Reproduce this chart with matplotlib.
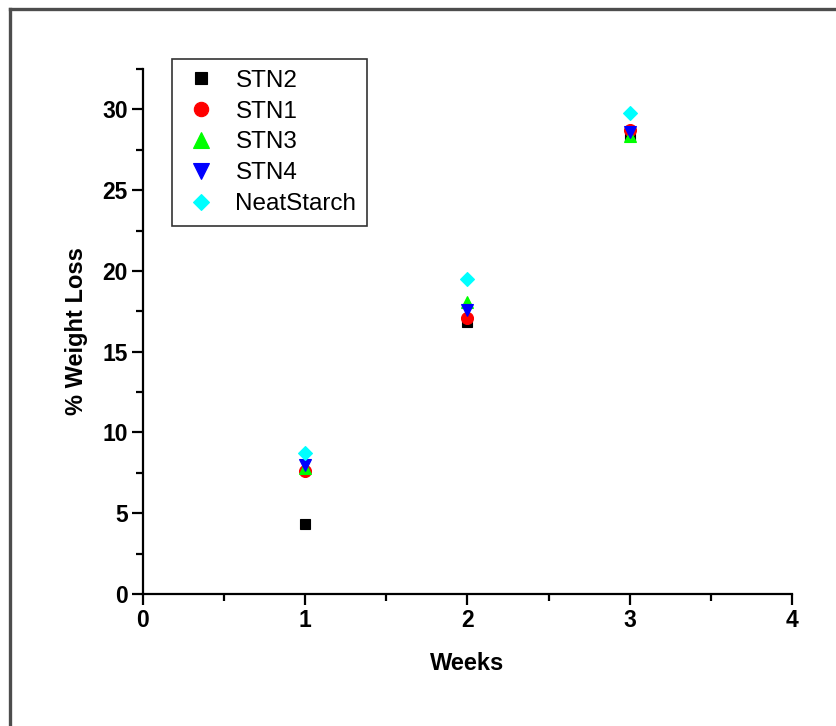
import matplotlib
matplotlib.use("Agg")
import matplotlib.pyplot as plt
from matplotlib.lines import Line2D
from matplotlib.ticker import MultipleLocator

plt.rcParams['font.family'] = ['Liberation Sans', 'DejaVu Sans']

weeks = [1, 2, 3]
stn2 = [4.35, 16.85, 28.35]
stn1 = [7.6, 17.1, 28.75]
stn3 = [7.8, 18.1, 28.35]
stn4 = [8.0, 17.6, 28.6]
neat_starch = [8.75, 19.5, 29.8]

series = [
    ("STN2", stn2, "s", "#000000", 7.3),
    ("STN1", stn1, "o", "#ff0000", 8.6),
    ("STN3", stn3, "^", "#00ff00", 9.2),
    ("STN4", stn4, "v", "#0000ff", 9.2),
    ("NeatStarch", neat_starch, "D", "#00ffff", 7.0),
]

W, H = 837, 726
fig = plt.figure(figsize=(W / 100, H / 100), dpi=100)

# outer page frame (left and top edges visible)
frame_col = "#4d4d4d"
fig.add_artist(Line2D([9.5 / W, 9.5 / W], [0, 1 - 8.5 / H], transform=fig.transFigure,
                      color=frame_col, lw=2.4, solid_capstyle="projecting"))
fig.add_artist(Line2D([9.5 / W, 1], [1 - 8.5 / H, 1 - 8.5 / H], transform=fig.transFigure,
                      color=frame_col, lw=2.4, solid_capstyle="projecting"))

ax = fig.add_axes([143 / W, 1 - 594 / H, (792 - 143) / W, (594 - 69) / H])

for name, vals, mk, col, ms in series:
    ax.plot(weeks, vals, linestyle="none", marker=mk, color=col, markersize=ms,
            markeredgewidth=0.8, label=name, clip_on=False)

ax.set_xlim(0, 4)
ax.set_ylim(0, 32.5)
ax.xaxis.set_major_locator(MultipleLocator(1))
ax.xaxis.set_minor_locator(MultipleLocator(0.5))
ax.yaxis.set_major_locator(MultipleLocator(5))
ax.yaxis.set_minor_locator(MultipleLocator(2.5))

for s in ("top", "right"):
    ax.spines[s].set_visible(False)
for s in ("left", "bottom"):
    ax.spines[s].set_linewidth(1.6)

ax.tick_params(which="major", direction="out", length=8, width=1.6,
               labelsize=16.5, pad=3)
ax.tick_params(which="minor", direction="out", length=5, width=1.6)
for lab in ax.get_xticklabels() + ax.get_yticklabels():
    lab.set_fontweight("bold")

ax.set_xlabel("Weeks", fontsize=17, fontweight="bold", labelpad=14)
ax.set_ylabel("% Weight Loss", fontsize=17, fontweight="bold", labelpad=10)

leg = ax.legend(loc="upper left", bbox_to_anchor=((172 - 143) / (792 - 143), 1 + 10 / (594 - 69)),
                fontsize=17.5, frameon=True, fancybox=False, edgecolor="#000000",
                borderpad=0.45, labelspacing=0.36, handletextpad=0.66,
                handlelength=1.5, borderaxespad=0, markerscale=1.2)
leg.get_frame().set_linewidth(1.2)

fig.savefig("out.png", dpi=100, facecolor="white")
